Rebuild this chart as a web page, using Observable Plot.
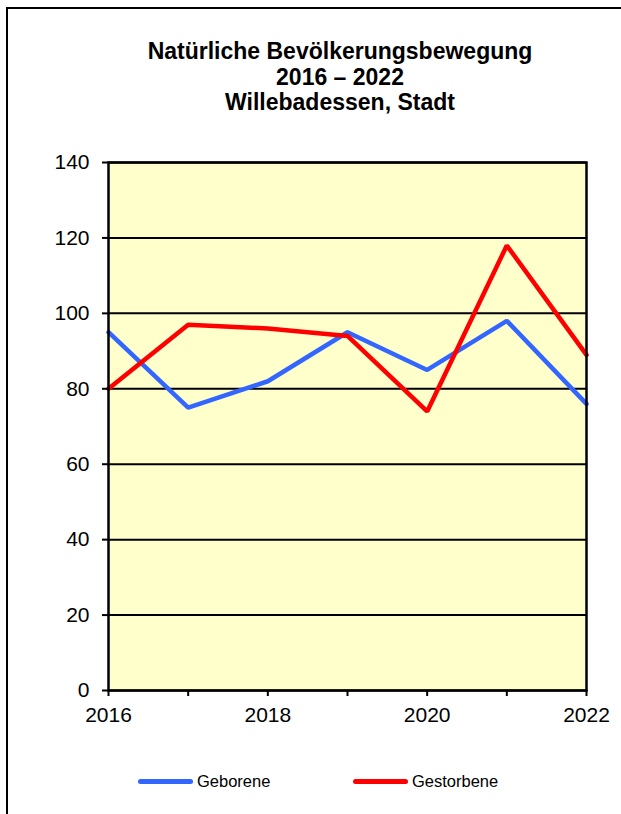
<!DOCTYPE html>
<html>
<head>
<meta charset="utf-8">
<script src="https://cdn.jsdelivr.net/npm/d3@7"></script>
<script src="https://cdn.jsdelivr.net/npm/@observablehq/plot@0.6"></script>
<style>
  html, body { margin: 0; padding: 0; background: #fff; overflow: hidden; }
  body { width: 621px; height: 814px; position: relative; font-family: "Liberation Sans", Arial, sans-serif; }
  #frame { position: absolute; left: 6px; top: 7px; width: 615px; height: 807px; border-left: 2px solid #000; border-top: 2px solid #000; box-sizing: border-box; }
  #title { position: absolute; left: 90px; width: 500px; top: 39px; text-align: center; font-weight: bold; font-size: 23px; line-height: 25.5px; color: #000; }
  #chart { position: absolute; left: 0; top: 0; }
  .leg { position: absolute; top: 772px; font-size: 16.5px; color: #000; display: flex; align-items: center; }
  .sw { width: 55px; height: 5px; border-radius: 3px; margin-right: 4px; }
</style>
</head>
<body>
<div id="frame"></div>
<div id="chart"></div>
<div id="title">Natürliche Bevölkerungsbewegung<br>2016 – 2022<br>Willebadessen, Stadt</div>
<div id="legend"></div>
<script>
const years = [2016, 2017, 2018, 2019, 2020, 2021, 2022];
const geborene = [95, 75, 82, 95, 85, 98, 76];
const gestorbene = [80, 97, 96, 94, 74, 118, 89];
const yTicks = [0, 20, 40, 60, 80, 100, 120, 140];
const xTickLabels = [2016, 2018, 2020, 2022];
const seriesNames = ["Geborene", "Gestorbene"];
const seriesColors = ["#3366FF", "#FF0000"];

const rows = [];
years.forEach((y, i) => {
  rows.push({year: y, value: geborene[i], series: seriesNames[0]});
  rows.push({year: y, value: gestorbene[i], series: seriesNames[1]});
});

const chart = Plot.plot({
  width: 621,
  height: 740,
  marginLeft: 108,
  marginRight: 35,
  marginTop: 162,
  marginBottom: 50,
  style: {background: "transparent", fontFamily: "'Liberation Sans', Arial, sans-serif", fontSize: "21px", color: "#000"},
  x: {type: "linear", domain: [2016, 2022]},
  y: {domain: [0, 140]},
  color: {domain: seriesNames, range: seriesColors},
  marks: [
    Plot.frame({fill: "#FFFFCC", stroke: null}),
    Plot.ruleY(yTicks, {stroke: "#000", strokeWidth: 2}),
    Plot.line(rows, {x: "year", y: "value", z: "series", stroke: "series", strokeWidth: 4.5, strokeLinejoin: "miter"}),
    Plot.frame({stroke: "#000", strokeWidth: 2.5}),
    Plot.axisY(yTicks, {tickSize: 6, tickPadding: 13, tickFormat: d => String(d), stroke: "#000", strokeWidth: 2, fill: "#000", label: null}),
    Plot.axisX(years, {tickSize: 6, tickPadding: 11, tickFormat: d => xTickLabels.includes(d) ? String(d) : "", stroke: "#000", strokeWidth: 2, fill: "#000", label: null})
  ]
});
document.getElementById("chart").appendChild(chart);

const legend = document.getElementById("legend");
const legLeft = [138, 353];
seriesNames.forEach((name, i) => {
  const d = document.createElement("div");
  d.className = "leg";
  d.style.left = legLeft[i] + "px";
  d.innerHTML = `<div class="sw" style="background:${seriesColors[i]}"></div><span>${name}</span>`;
  legend.appendChild(d);
});
</script>
</body>
</html>
